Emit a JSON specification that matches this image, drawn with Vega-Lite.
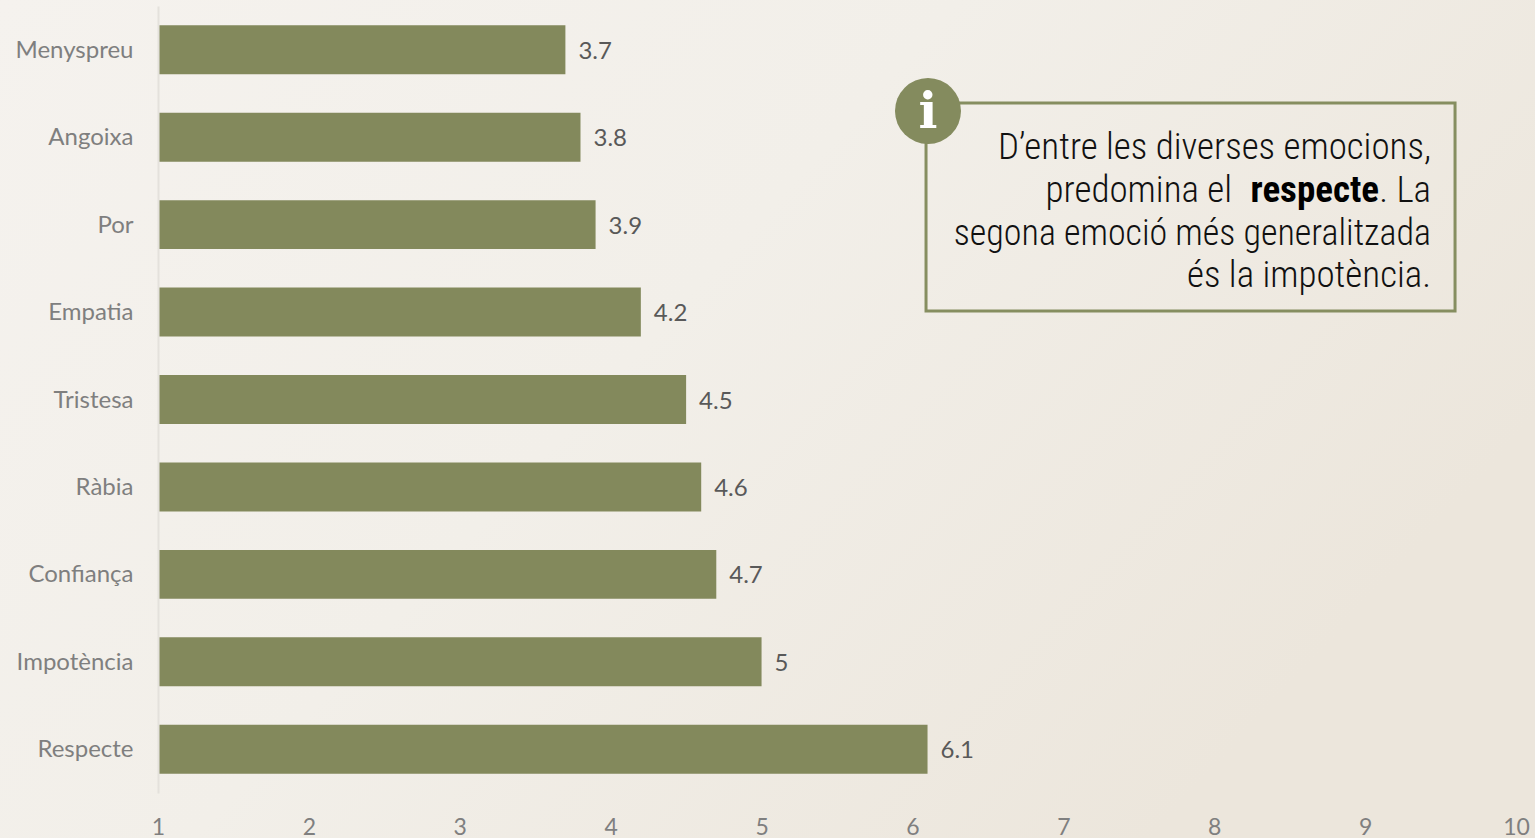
{
"$schema":"https://vega.github.io/schema/vega-lite/v6.json",
"width":1358,"height":787,
"autosize":{"type":"none"},
"padding":{"left":158,"top":6,"right":19,"bottom":45},
"background":"#f1ede7",
"config":{"view":{"stroke":null}},
"data":{"values":[
{"emocio":"Menyspreu","valor":3.7},{"emocio":"Angoixa","valor":3.8},{"emocio":"Por","valor":3.9},{"emocio":"Empatia","valor":4.2},{"emocio":"Tristesa","valor":4.5},{"emocio":"Ràbia","valor":4.6},{"emocio":"Confiança","valor":4.7},{"emocio":"Impotència","valor":5},{"emocio":"Respecte","valor":6.1}]},
"resolve":{"scale":{"y":"independent"}},
"layer":[
{"data":{"values":[{"k":"fons"}]},
 "mark":{"type":"rect","clip":false,"color":{"gradient":"linear","x1":0,"y1":0,"x2":1,"y2":0.5,"stops":[{"offset":0,"color":"#f5f2ee"},{"offset":0.5,"color":"#f2efe9"},{"offset":1,"color":"#ece6dc"}]}},
 "encoding":{"x":{"datum":-0.0471,"type":"quantitative","scale":{"domain":[1,10],"zero":false,"nice":false},
   "axis":{"values":[1,2,3,4,5,6,7,8,9,10],"format":"d","title":null,"grid":false,"ticks":false,"domain":false,"labelFont":"Lato","labelFontSize":23,"labelColor":"#7f7f7f","labelPadding":23,"labelFlush":false,"labelOverlap":false,"zindex":1}},"x2":{"datum":10.126},
 "y":{"datum":0,"type":"quantitative","scale":{"domain":[793,6],"zero":false,"nice":false},"axis":null},"y2":{"datum":838}}},
{"mark":{"type":"bar","color":"#83895c"},
 "encoding":{"x":{"field":"valor","type":"quantitative"},"x2":{"datum":1.007},
  "y":{"field":"emocio","type":"nominal","sort":null,"scale":{"paddingInner":0.44,"paddingOuter":0.22},
   "axis":{"title":null,"ticks":false,"grid":false,"domainColor":"#e4e1dc","domainWidth":2,"labelFont":"Lato","labelFontSize":24,"labelColor":"#7f7f7f","labelPadding":25,"labelOffset":1,"zindex":1}}}},
{"mark":{"type":"text","align":"left","baseline":"middle","dx":13,"dy":2,"font":"Lato","fontSize":24,"color":"#595959"},
 "encoding":{"x":{"field":"valor","type":"quantitative"},"y":{"field":"emocio","type":"nominal","sort":null,"scale":{"paddingInner":0.44,"paddingOuter":0.22},"axis":null},"text":{"field":"valor","type":"quantitative"}}},
{"data":{"values":[{"k":"caixa"}]},
 "mark":{"type":"rect","fill":null,"fillOpacity":0,"stroke":"#868e60","strokeWidth":3},
 "encoding":{"x":{"datum":6.09,"type":"quantitative"},"x2":{"datum":9.596},"y":{"datum":103,"type":"quantitative","scale":{"domain":[793,6],"zero":false,"nice":false},"axis":null},"y2":{"datum":311}}},
{"data":{"values":[{"k":"cercle"}]},
 "mark":{"type":"point","shape":"circle","filled":true,"opacity":1,"color":"#848b5e","size":4356},
 "encoding":{"x":{"datum":6.103,"type":"quantitative"},"y":{"datum":111,"type":"quantitative","scale":{"domain":[793,6],"zero":false,"nice":false},"axis":null}}},
{"data":{"values":[{"t":"i"}]},
 "mark":{"type":"text","align":"center","baseline":"alphabetic","font":"DejaVu Serif","fontWeight":"bold","fontSize":50,"color":"#ffffff"},
 "encoding":{"x":{"datum":6.103,"type":"quantitative"},"y":{"datum":128,"type":"quantitative","scale":{"domain":[793,6],"zero":false,"nice":false},"axis":null},"text":{"field":"t"}}},
{"data":{"values":[{"t":"D’entre les diverses emocions,"}]},
 "mark":{"type":"text","align":"right","baseline":"alphabetic","font":"Roboto Condensed","fontWeight":300,"fontSize":37,"color":"#111111"},
 "encoding":{"x":{"datum":9.437,"type":"quantitative"},"y":{"datum":159,"type":"quantitative","scale":{"domain":[793,6],"zero":false,"nice":false},"axis":null},"text":{"field":"t"}}},
{"data":{"values":[{"t":"predomina el"}]},
 "mark":{"type":"text","align":"right","baseline":"alphabetic","font":"Roboto Condensed","fontWeight":300,"fontSize":37,"color":"#111111"},
 "encoding":{"x":{"datum":8.118,"type":"quantitative"},"y":{"datum":202,"type":"quantitative","scale":{"domain":[793,6],"zero":false,"nice":false},"axis":null},"text":{"field":"t"}}},
{"data":{"values":[{"t":"respecte"}]},
 "mark":{"type":"text","align":"right","baseline":"alphabetic","font":"Roboto Condensed","fontWeight":"bold","fontSize":37,"color":"#000000"},
 "encoding":{"x":{"datum":9.092,"type":"quantitative"},"y":{"datum":202,"type":"quantitative","scale":{"domain":[793,6],"zero":false,"nice":false},"axis":null},"text":{"field":"t"}}},
{"data":{"values":[{"t":". La"}]},
 "mark":{"type":"text","align":"right","baseline":"alphabetic","font":"Roboto Condensed","fontWeight":300,"fontSize":37,"color":"#111111"},
 "encoding":{"x":{"datum":9.437,"type":"quantitative"},"y":{"datum":202,"type":"quantitative","scale":{"domain":[793,6],"zero":false,"nice":false},"axis":null},"text":{"field":"t"}}},
{"data":{"values":[{"t":"segona emoció més generalitzada"}]},
 "mark":{"type":"text","align":"right","baseline":"alphabetic","font":"Roboto Condensed","fontWeight":300,"fontSize":36,"color":"#111111"},
 "encoding":{"x":{"datum":9.437,"type":"quantitative"},"y":{"datum":245,"type":"quantitative","scale":{"domain":[793,6],"zero":false,"nice":false},"axis":null},"text":{"field":"t"}}},
{"data":{"values":[{"t":"és la impotència."}]},
 "mark":{"type":"text","align":"right","baseline":"alphabetic","font":"Roboto Condensed","fontWeight":300,"fontSize":37,"color":"#111111"},
 "encoding":{"x":{"datum":9.437,"type":"quantitative"},"y":{"datum":287,"type":"quantitative","scale":{"domain":[793,6],"zero":false,"nice":false},"axis":null},"text":{"field":"t"}}}
]}
